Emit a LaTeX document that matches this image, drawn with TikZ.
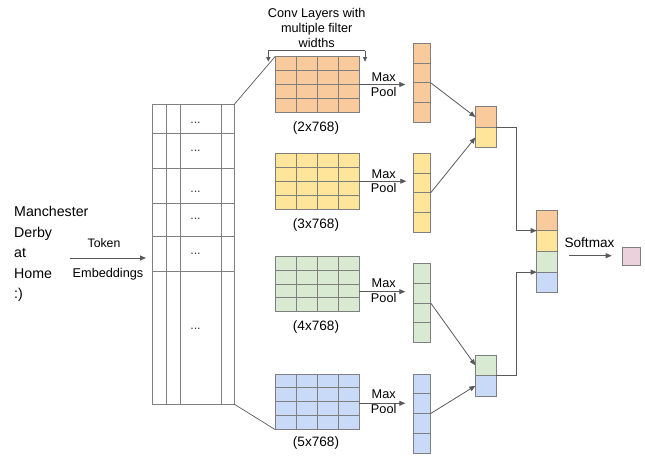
\documentclass[tikz,border=0pt]{standalone}
\usepackage{fontspec}
\setmainfont{Liberation Sans}
\usetikzlibrary{arrows.meta,calc}
\definecolor{corange}{HTML}{F9CB9C}
\definecolor{cyellow}{HTML}{FFE599}
\definecolor{cgreen}{HTML}{D9EAD3}
\definecolor{cblue}{HTML}{C9DAF8}
\definecolor{cpink}{HTML}{EAD1DC}
\definecolor{edgegray}{HTML}{7F7F7F}
\definecolor{linkgray}{HTML}{595959}
\begin{document}
\begin{tikzpicture}[x=1pt,y=-1pt,
  cell/.style={draw=edgegray, line width=0.8pt, inner sep=0pt, outer sep=0pt},
  convbox/.style={cell, minimum width=84pt, minimum height=55.6pt},
  poolbox/.style={cell, minimum width=17.4pt, minimum height=79pt},
  catsmall/.style={cell, minimum width=20.7pt, minimum height=20.5pt},
  catbig/.style={cell, minimum width=21pt, minimum height=20.7pt},
  gridline/.style={draw=edgegray, line width=0.8pt},
  arr/.style={draw=linkgray, line width=0.8pt, -{Triangle[length=6pt,width=5pt]}},
  plain/.style={draw=linkgray, line width=0.7pt},
  lbl/.style={inner sep=0pt, font=\fontsize{12.7}{14.5}\selectfont, align=center},
  dots/.style={inner sep=0pt, text=black!80, font=\fontsize{12.5}{12}\selectfont}
]
\useasboundingbox (0,0) rectangle (645,457);

% ---- input text
\node[inner sep=0pt, anchor=west, align=left, font=\fontsize{14.2}{20.6}\selectfont] (words) at (14,254)
  {Manchester\\Derby\\at\\Home\\:)};
\coordinate (tokstart) at (70,258);
\node[lbl, font=\fontsize{12.3}{14}\selectfont] (tok) at (104,243.3) {Token};
\node[lbl, font=\fontsize{12.7}{14}\selectfont] (embl) at (108,274.3) {Embeddings};

% ---- embedding matrix
\node[cell, draw=gray, minimum width=82pt, minimum height=299.3pt] (emb) at (193,254.35) {};
\foreach \x in {166,180,221.7} \draw[gridline, draw=gray] (\x,104.7) -- (\x,404);
\foreach \y in {133.3,168.3,203.3,236.7,271.7} \draw[gridline, draw=gray] (152,\y) -- (234,\y);
\foreach \y in {122.7,151,192,219,254,329} \node[dots] at (195.5,\y) {...};

\draw[arr] (tokstart) -- ($(tokstart -| emb.west)+(-6,0)$);

% ---- conv layers
\node[convbox, fill=corange] (c1) at (317,84.5) {};
\node[convbox, fill=cyellow] (c2) at (317,181.2) {};
\node[convbox, fill=cgreen]  (c3) at (317,283.9) {};
\node[convbox, fill=cblue]   (c4) at (317,401.7) {};
\foreach \c in {c1,c2,c3,c4}{
  \foreach \i in {1,2,3}{
    \draw[gridline] ($(\c.north west)!\i/4!(\c.north east)$) -- ($(\c.south west)!\i/4!(\c.south east)$);
    \draw[gridline] ($(\c.north west)!\i/4!(\c.south west)$) -- ($(\c.north east)!\i/4!(\c.south east)$);
  }
}
\node[lbl, font=\fontsize{13.6}{15}\selectfont] (d1) at (316,128) {(2x768)};
\node[lbl, font=\fontsize{13.6}{15}\selectfont] (d2) at (316,225) {(3x768)};
\node[lbl, font=\fontsize{13.6}{15}\selectfont] (d3) at (316,326.7) {(4x768)};
\node[lbl, font=\fontsize{13.6}{15}\selectfont] (d4) at (316,443.3) {(5x768)};

% title and bracket
\node[lbl, font=\fontsize{12.7}{15}\selectfont] (title) at (316.7,28) {Conv Layers with\\multiple filter\\widths};
\coordinate (brl) at (268.3,50.7);
\coordinate (brr) at (365,50.7);
\draw[plain] (brl) -- (brr);
\draw[plain, -{Triangle[length=4.5pt,width=4pt]}] (brl) -- ++(0,11);
\draw[plain, -{Triangle[length=4.5pt,width=4pt]}] (brr) -- ++(0,11);

% connecting lines from embedding
\draw[plain] (emb.north east) -- (c1.north west);
\draw[plain] (emb.south east) -- (c4.south west);

% ---- pooled vectors
\node[poolbox, fill=corange] (p1) at (422,82.8) {};
\node[poolbox, fill=cyellow] (p2) at (422,192.8) {};
\node[poolbox, fill=cgreen]  (p3) at (422,303) {};
\node[poolbox, fill=cblue]   (p4) at (422,413.5) {};
\foreach \p in {p1,p2,p3,p4}{
  \foreach \i in {1,2,3}
    \draw[gridline] ($(\p.north west)!\i/4!(\p.south west)$) -- ($(\p.north east)!\i/4!(\p.south east)$);
}

% max pool arrows
\draw[arr] (c1.east) -- ($(c1.east -| p1.west)+(-8,0)$);
\draw[arr] (c2.east) -- ($(c2.east -| p2.west)+(-7,0)$);
\draw[arr] ($(c3.east)+(0,7.8)$) -- ($(c3.east -| p3.west)+(-8,7.8)$);
\draw[arr] ($(c4.east)+(0,1.6)$) -- ($(c4.east -| p4.west)+(-8,1.6)$);
\node[lbl] (m1) at (383.7,84.5) {Max\\Pool};
\node[lbl] (m2) at (383.7,181) {Max\\Pool};
\node[lbl] (m3) at (383.7,290.5) {Max\\Pool};
\node[lbl] (m4) at (383.7,401.5) {Max\\Pool};

% ---- small concatenations
\node[catsmall, fill=corange] (t1) at (485.7,117) {};
\node[catsmall, fill=cyellow] (t2) at (485.7,137.5) {};
\node[catsmall, fill=cgreen]  (b1) at (485.7,365.3) {};
\node[catsmall, fill=cblue]   (b2) at (485.7,385.8) {};
\draw[arr] (p1.east) -- (t1.west);
\draw[arr] (p2.east) -- (t2.west);
\draw[arr] (p3.east) -- (b1.west);
\draw[arr] (p4.east) -- (b2.west);

% ---- big concatenation
\node[catbig, fill=corange] (g1) at (547.2,220.3) {};
\node[catbig, fill=cyellow] (g2) at (547.2,241.1) {};
\node[catbig, fill=cgreen]  (g3) at (547.2,261.8) {};
\node[catbig, fill=cblue]   (g4) at (547.2,282.5) {};
\draw[arr] (t1.south east) -- ++(20.3,0) |- (g1.south west);
\draw[arr] (b1.south east) -- ++(20.3,0) |- (g3.south west);

% ---- softmax
\node[cell, fill=cpink, minimum width=18pt, minimum height=17.7pt] (out) at (631.7,256.2) {};
\coordinate (smstart) at (569,255.7);
\draw[arr] (smstart) -- ($(smstart -| out.west)+(-11,0)$);
\node[lbl, font=\fontsize{13.6}{15}\selectfont] (smlbl) at (589.5,242.3) {Softmax};
\end{tikzpicture}
\end{document}
